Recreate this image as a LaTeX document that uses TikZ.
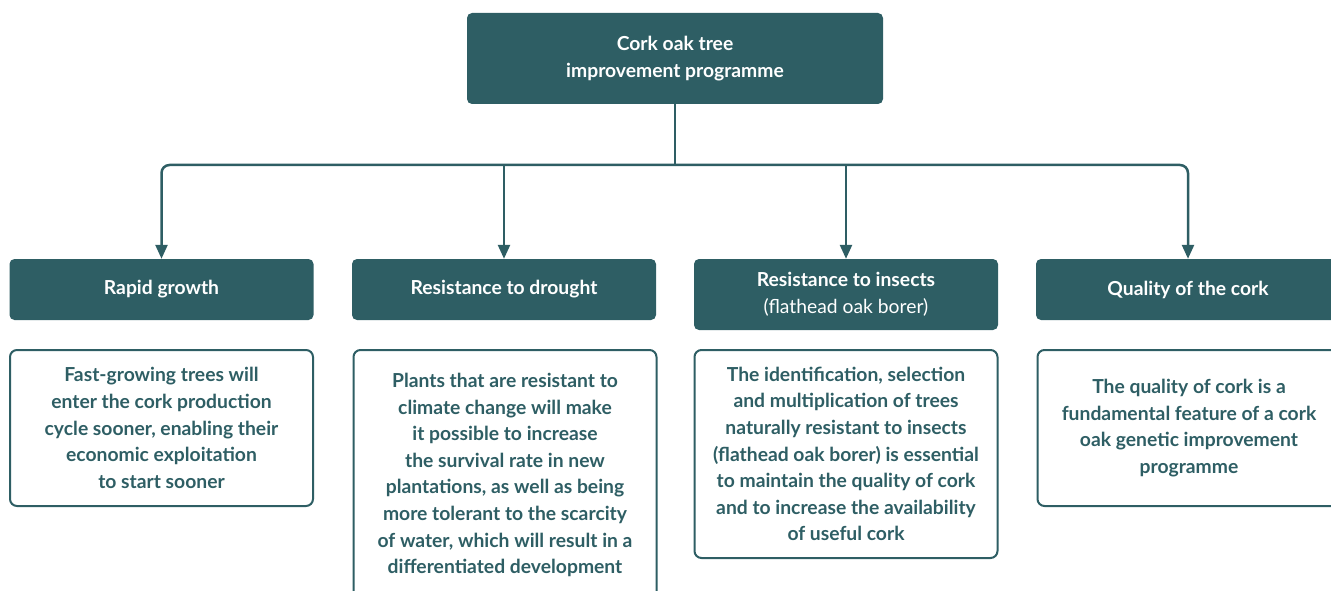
\documentclass[tikz,border=0pt]{standalone}
\usepackage{fontspec}
\setmainfont{Lato}
\usetikzlibrary{arrows.meta}
\definecolor{corkgreen}{HTML}{2E5E64}

\begin{document}
\begin{tikzpicture}[x=1pt, y=-1pt, >={Triangle[length=14pt,width=12pt]},
  head/.style={fill=corkgreen, text=white, rounded corners=5pt, inner sep=0pt,
    minimum width=304pt, minimum height=61pt, align=center,
    font=\bfseries\fontsize{19.3}{27}\selectfont},
  info/.style={draw=corkgreen, line width=2pt, text=corkgreen, rounded corners=7pt,
    inner sep=0pt, minimum width=303pt, anchor=north, align=center,
    font=\bfseries\fontsize{19.3}{26.6}\selectfont},
  link/.style={draw=corkgreen, line width=2.5pt}]
\useasboundingbox (0,0) rectangle (1331,591);

\node[head, minimum width=416pt, minimum height=91pt] (Programme) at (675,58.5)
  {Cork oak tree\\improvement programme};

\node[head] (Growth)  at (161.5,289.5) {Rapid growth};
\node[head] (Drought) at (504,289.5)   {Resistance to drought};
\node[head, minimum height=71pt] (Insects) at (846,294.5)
  {Resistance to insects\\{\mdseries(flathead oak borer)}};
\node[head] (Quality) at (1188,289.5)  {Quality of the cork};

\node[info, minimum height=156pt] (GrowthText) at (161.5,349)
  {Fast-growing trees will\\enter the cork production\\cycle sooner, enabling their\\economic exploitation\\to start sooner};
\node[info, minimum height=250pt] (DroughtText) at (505,349)
  {Plants that are resistant to\\climate change will make\\it possible to increase\\the survival rate in new\\plantations, as well as being\\more tolerant to the scarcity\\of water, which will result in a\\differentiated development};
\node[info, minimum height=208pt] (InsectsText) at (846,349)
  {The identification, selection\\and multiplication of trees\\naturally resistant to insects\\(flathead oak borer) is essential\\to maintain the quality of cork\\and to increase the availability\\of useful cork};
\node[info, minimum height=156pt] (QualityText) at (1189,349)
  {The quality of cork is a\\fundamental feature of a cork\\oak genetic improvement\\programme};

\coordinate (Bus) at (675,165);
\draw[link] (Programme) -- (Bus);
\draw[link, ->, rounded corners=8pt] (Bus) -| (Growth);
\draw[link, ->, rounded corners=8pt] (Bus) -| (Quality);
\draw[link, ->] (Bus -| Drought) -- (Drought);
\draw[link, ->] (Bus -| Insects) -- (Insects);

\end{tikzpicture}
\end{document}
